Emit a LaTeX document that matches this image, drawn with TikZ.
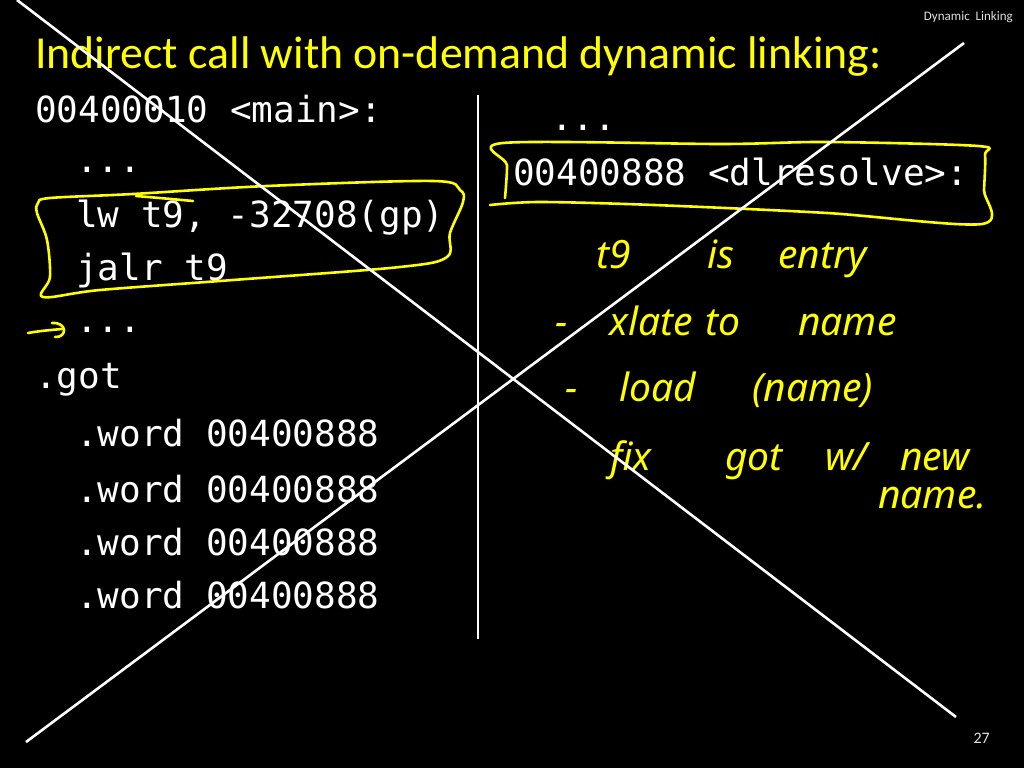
\documentclass[tikz,border=0pt]{standalone}
\usepackage{fontspec}
\setmainfont{Carlito}
\setmonofont{DejaVu Sans Mono}
\newfontfamily\handfont{Noto Sans}
\definecolor{slideyellow}{RGB}{255,255,0}
\definecolor{hdrgray}{RGB}{225,225,225}
\tikzset{
  codetext/.style={anchor=base west, inner sep=0pt, text=white, font=\ttfamily\fontsize{36}{40}\selectfont},
  handtext/.style={anchor=base west, inner sep=0pt, text=slideyellow, font=\handfont\itshape\fontsize{39}{42}\selectfont},
  inkstroke/.style={draw=slideyellow, line width=2.6pt, line cap=round, line join=round},
  crossline/.style={draw=white, line width=2.6pt},
}
\begin{document}
\begin{tikzpicture}[x=1pt,y=-1pt]
\fill[black] (0,0) rectangle (1024,768);
\useasboundingbox (0,0) rectangle (1024,768);

% header, title, page number
\node[anchor=base east, inner sep=0pt, text=hdrgray, font=\fontsize{13}{15}\selectfont] (hdr) at (1013,21) {Dynamic\hspace{3pt} Linking};
\node[anchor=base west, inner sep=0pt, text=slideyellow, font=\fontsize{45.8}{50}\selectfont] (title) at (35,68) {Indirect call with on-demand dynamic linking:};
\node[anchor=base east, inner sep=0pt, text=hdrgray, font=\fontsize{16}{18}\selectfont] (pnum) at (990,743) {27};

% left code column
\node[codetext] (c1) at (35,122) {00400010 <main>:};
\node[codetext] (c2) at (76,172) {...};
\node[codetext] (c3) at (76,227) {lw t9, -32708(gp)};
\node[codetext] (c4) at (76,280) {jalr t9};
\node[codetext] (c5) at (76,332) {...};
\node[codetext] (c6) at (35,388) {.got};
\node[codetext] (c7) at (76,446) {.word 00400888};
\node[codetext] (c8) at (76,502) {.word 00400888};
\node[codetext] (c9) at (76,555) {.word 00400888};
\node[codetext] (c10) at (76,608) {.word 00400888};

% right code column
\node[codetext] (r1) at (551,130) {...};
\node[codetext] (r2) at (513,185) {00400888 <dlresolve>:};

% separator
\coordinate (sepTop) at (478,95);
\coordinate (sepBot) at (478,639);
\draw[draw=white, line width=2.6pt] (sepTop) -- (sepBot);

% yellow loop around lw/jalr
\draw[inkstroke] plot[smooth cycle, tension=0.55] coordinates {
  (50,198) (133,194) (267,186) (433,181) (460,190) (463,202) (450,233) (447,257)
  (400,267) (233,280) (100,290) (43,297) (50,277) (47,240) (37,213) (38,203)};
\draw[inkstroke] (136,196) .. controls (160,198) .. (193,201);

% yellow loop around dlresolve
\draw[inkstroke] plot[smooth, tension=0.5] coordinates {
  (490,205) (540,202) (654,205) (827,213) (982,224) (984,190) (985,155) (978,146)
  (827,142) (723,144) (503,143) (507,165) (505,198)};

% yellow hand arrow
\coordinate (arrTail) at (28,333);
\coordinate (arrTip) at (62,329);
\draw[inkstroke] (arrTail) .. controls (40,331) .. (arrTip);
\draw[inkstroke] (52,323) .. controls (68,322) and (67,338) .. (55,337);

% handwritten notes
\node[handtext] (h1a) at (596,268) {t9};
\node[handtext] (h1b) at (707,268) {is};
\node[handtext] (h1c) at (778,268) {entry};

\node[handtext] (h2a) at (555,335) {-};
\node[handtext] (h2b) at (609,335) {xlate};
\node[handtext] (h2c) at (705,335) {to};
\node[handtext] (h2d) at (798,335) {name};

\node[handtext] (h3a) at (565,401) {-};
\node[handtext] (h3b) at (619,401) {load};
\node[handtext] (h3c) at (752,401) {(name)};

\node[handtext] (h4a) at (610,470) {fix};
\node[handtext] (h4b) at (725,470) {got};
\node[handtext] (h4c) at (825,470) {w/};
\node[handtext] (h4d) at (900,470) {new};

\node[handtext] (h5a) at (878,508) {name.};

% big white cross
\coordinate (xA1) at (17,0);
\coordinate (xA2) at (956,717);
\coordinate (xB1) at (964,43);
\coordinate (xB2) at (26,742);
\draw[crossline] (xA1) -- (xA2);
\draw[crossline] (xB1) -- (xB2);
\end{tikzpicture}
\end{document}
